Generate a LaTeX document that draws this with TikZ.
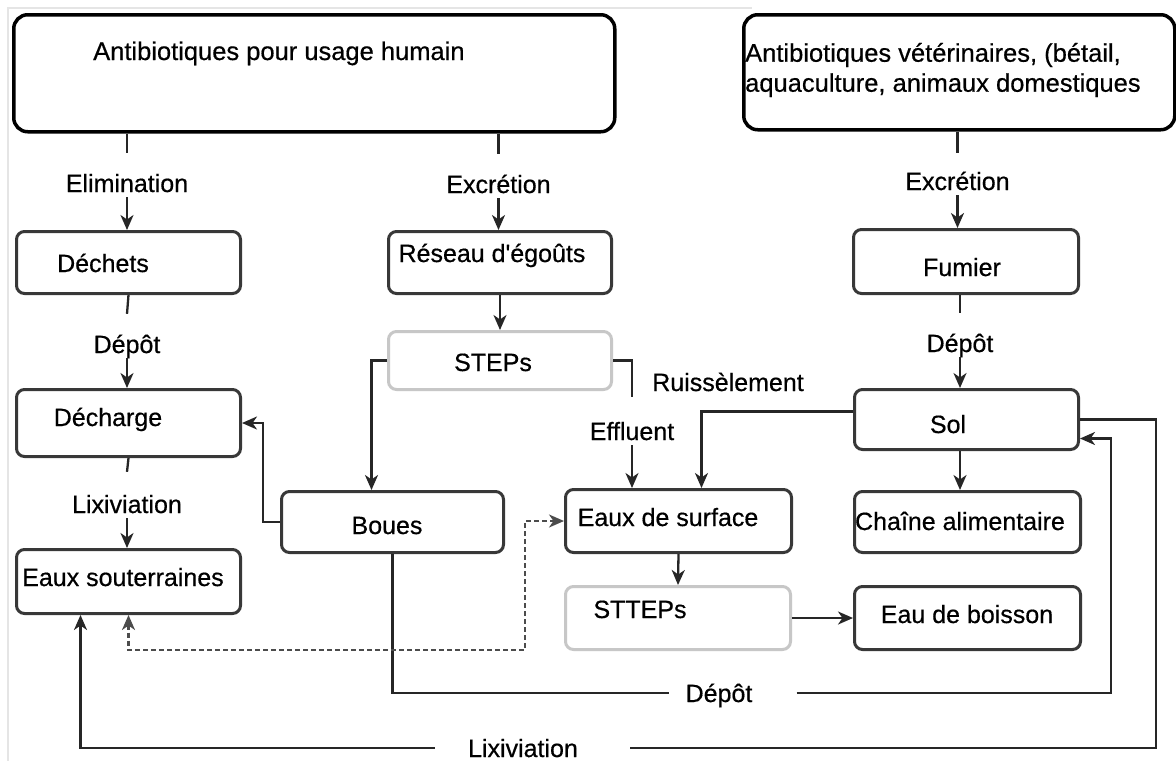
\documentclass[tikz,border=0pt]{standalone}
\usepackage{fontspec}
\setmainfont{Liberation Sans}[FakeBold=0.5]
\usetikzlibrary{arrows.meta}
\begin{document}
\begin{tikzpicture}[x=1pt,y=-1pt,
  every node/.style={font=\fontsize{25}{30}\selectfont},
  box/.style={draw=black!78, line width=3pt, rounded corners=8pt, inner sep=0pt, anchor=north west},
  topbox/.style={box, draw=black, line width=3.5pt, rounded corners=14pt},
  graybox/.style={box, draw=black!22},
  txt/.style={inner sep=0pt, anchor=base},
  lbl/.style={inner xsep=0pt, inner ysep=5pt, text height=18pt, text depth=0pt, anchor=base},
  hlbl/.style={inner sep=0pt, text height=18pt, text depth=0pt},
  conn/.style={draw=black!85, line width=2.3pt},
  tip/.tip={Stealth[length=15pt,width=13pt,inset=4.5pt]},
  arr/.style={conn, -tip},
]
\useasboundingbox[fill=white] (0,0) rectangle (1176,761);
\draw[black!10, line width=1.5pt] (8,761) -- (8,8) -- (752,8);

% boxes
\node[topbox, minimum width=601pt, minimum height=117pt] (hum) at (12,13) {};
\node[topbox, minimum width=431pt, minimum height=115pt] (vet) at (742,13) {};
\node[box, minimum width=224pt, minimum height=62pt] (dech) at (15,230) {};
\node[box, minimum width=224pt, minimum height=67pt] (decharge) at (15,388) {};
\node[box, minimum width=224pt, minimum height=64pt] (eauxsout) at (15,548) {};
\node[box, minimum width=223pt, minimum height=62pt] (res) at (387,230) {};
\node[graybox, minimum width=223pt, minimum height=58pt] (steps) at (387,330) {};
\node[box, minimum width=222pt, minimum height=61pt] (boues) at (280,490) {};
\node[box, minimum width=226pt, minimum height=63pt] (surf) at (564,488) {};
\node[graybox, minimum width=225pt, minimum height=63pt] (sttep) at (564,585) {};
\node[box, minimum width=225pt, minimum height=64pt] (fumier) at (852,228) {};
\node[box, minimum width=224pt, minimum height=60pt] (sol) at (853,388) {};
\node[box, minimum width=226pt, minimum height=61pt] (chaine) at (853,490) {};
\node[box, minimum width=226pt, minimum height=63pt] (boisson) at (853,585) {};

% texts in boxes
\node[txt, anchor=base west, font=\fontsize{25.5}{30}\selectfont] (tHum) at (93,60) {Antibiotiques pour usage humain};
\node[inner sep=0pt, anchor=west, align=left, font=\fontsize{25.5}{30}\selectfont] (tVet) at (745,70) {Antibiotiques vétérinaires, (bétail,\\aquaculture, animaux domestiques};
\node[txt] (tDech) at (103,272) {Déchets};
\node[txt] (tDecharge) at (108,426) {Décharge};
\node[txt] (tSout) at (123,586) {Eaux souterraines};
\node[txt] (tRes) at (492,262) {Réseau d\textquotesingle égoûts};
\node[txt] (tSteps) at (493,371) {STEPs};
\node[txt] (tBoues) at (387,534) {Boues};
\node[txt] (tSurf) at (668,526) {Eaux de surface};
\node[txt] (tStt) at (640,618) {STTEPs};
\node[txt] (tChaine) at (960,530) {Chaîne alimentaire};
\node[txt] (tBoisson) at (967,623) {Eau de boisson};
\node[txt] (tFum) at (962,276) {Fumier};
\node[txt] (tSol) at (948,433) {Sol};
\node[txt] (tRuis) at (728,391) {Ruissèlement};

% connector labels
\node[lbl] (lElim) at (127,192) {Elimination};
\node[lbl] (lExc1) at (498.5,193) {Excrétion};
\node[lbl] (lExc2) at (957.5,190) {Excrétion};
\node[lbl] (lDep1) at (127,353) {Dépôt};
\node[lbl] (lDep2) at (960,352) {Dépôt};
\node[lbl] (lLix1) at (127,513) {Lixiviation};
\node[lbl] (lEff) at (632,440) {Effluent};
\node[hlbl] (lDep3) at (719,693) {Dépôt};
\node[hlbl] (lLix2) at (523,748) {Lixiviation};

\coordinate (cB) at (263,470);
\coordinate (cS) at (1111,560);
\coordinate (cR) at (1156,748);
\coordinate (cD) at (525,650);

% left column
\draw[conn] (hum.south -| lElim) -- ([yshift=16pt]lElim.north);
\draw[arr] (lElim.south) -- (lElim.south |- dech.north);
\draw[conn] (dech.south) -- ([yshift=16pt]lDep1.north);
\draw[arr] (lDep1.south) -- (lDep1.south |- decharge.north);
\draw[conn] (decharge.south) -- ([yshift=18pt]lLix1.north);
\draw[arr] (lLix1.south) -- (lLix1.south |- eauxsout.north);

% middle column
\draw[conn] (hum.south -| lExc1) -- ([yshift=16pt]lExc1.north);
\draw[arr] (lExc1.south) -- (lExc1.south |- res.north);
\draw[arr] (res.south) -- (steps.north);
\draw[arr] (steps.west) -| ([xshift=-21pt]boues.north);
\draw[conn] (steps.east) -| ([yshift=20pt]lEff.north);
\draw[arr] (lEff.south) -- (lEff.south |- surf.north);
\draw[arr] (boues.west) -| (cB) |- (decharge.east);
\draw[arr] (surf.south) -- (sttep.north);
\draw[arr] (sttep.east) -- (boisson.west);

% right column
\draw[conn] (vet.south -| lExc2) -- ([yshift=14pt]lExc2.north);
\draw[arr] (lExc2.south) -- (lExc2.south |- fumier.north);
\draw[conn] (fumier.south -| lDep2) -- ([yshift=16pt]lDep2.north);
\draw[arr] (lDep2.south) -- (lDep2.south |- sol.north);
\draw[arr] (sol.south -| lDep2) -- (lDep2 |- chaine.north);
\draw[arr] ([yshift=8pt]sol.west) -| ([xshift=23pt]surf.north);

% bottom loops
\draw[conn] (boues.south) |- ([xshift=-16pt]lDep3.west);
\draw[arr] ([xshift=44pt]lDep3.east) -| (cS) |- ([yshift=-19pt]sol.east);
\draw[conn] (sol.east) -| (cR) |- ([xshift=52pt]lLix2.east);
\draw[arr] ([xshift=-33pt]lLix2.west) -| ([xshift=-48pt]eauxsout.south);
\draw[conn, draw=black!70, dash pattern=on 5pt off 3pt, tip-tip] (eauxsout.south) |- (cD) |- (surf.west);
\end{tikzpicture}
\end{document}
